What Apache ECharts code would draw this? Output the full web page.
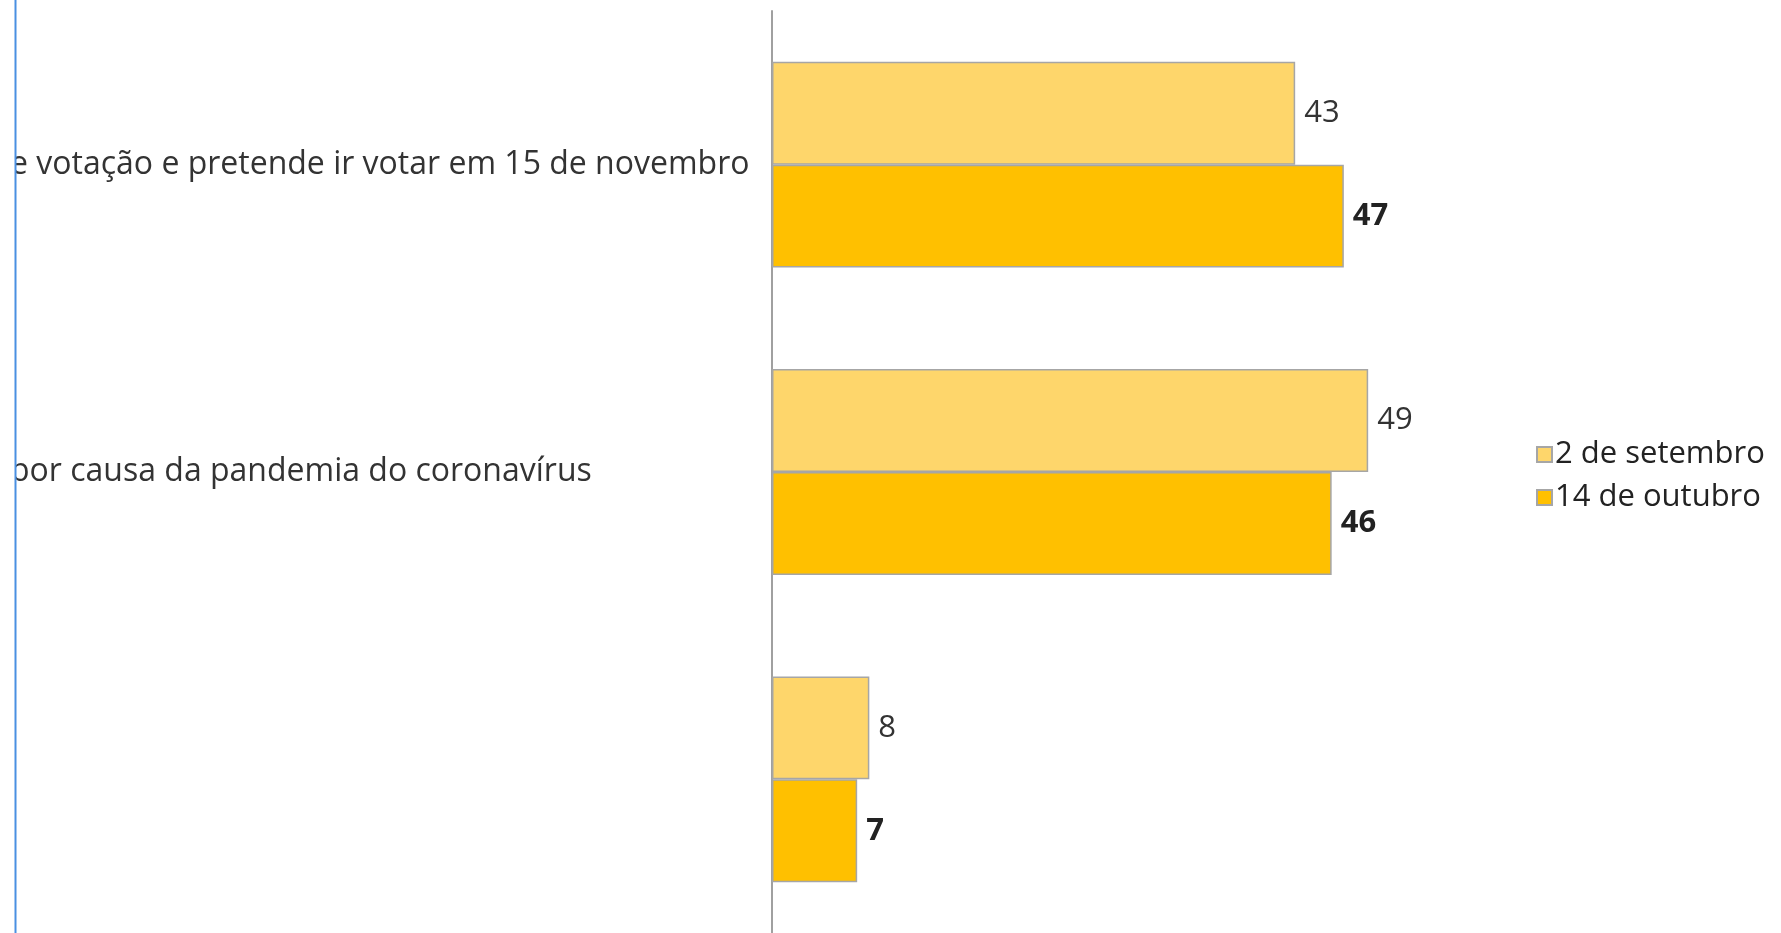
<!DOCTYPE html>
<html>
<head>
<meta charset="utf-8">
<title>Intenção de voto</title>
<script src="https://cdn.jsdelivr.net/npm/echarts@6/dist/echarts.min.js"></script>
<style>
    html, body { margin: 0; padding: 0; background: #fff; }
    #chart { width: 1781px; height: 933px; }
</style>
</head>
<body>
<div id="chart"></div>
<script>
// categorias (texto cortado na imagem original)
const categories = [
    'e votação e pretende ir votar em 15 de novembro',
    'por causa da pandemia do coronavírus',
    ''
]
const seriesNames = ['2 de setembro', '14 de outubro']
const setembro = [43, 49, 8]
const outubro = [47, 46, 7]

const fontFamily = '"Open Sans", "Noto Sans", sans-serif'
const myChart = echarts.init(document.getElementById('chart'))

myChart.setOption({
    animation: false,
    legend: {
        orient: 'vertical',
        left: 1531,
        top: 434,
        icon: 'rect',
        itemWidth: 15,
        itemHeight: 15,
        itemGap: 12,
        textStyle: { fontFamily, fontSize: 31, color: '#222', padding: [0, 0, 0, -2] },
        data: seriesNames
    },
    grid: {
        left: 772,
        right: 279,
        top: 11,
        height: 924
    },
    xAxis: {
        type: 'value',
        min: 0,
        max: 60,
        show: false
    },
    yAxis: {
        type: 'category',
        inverse: true,
        data: categories,
        axisTick: { show: false },
        axisLine: { lineStyle: { color: '#a0a0a0', width: 2 } },
        axisLabel: {
            align: 'left',
            margin: 762,
            fontFamily,
            fontSize: 32,
            color: '#333'
        }
    },
    series: [
        {
            name: seriesNames[0],
            type: 'bar',
            barGap: 0,
            barCategoryGap: '33%',
            itemStyle: { color: '#fed66b', borderColor: '#a6a6a6', borderWidth: 1.5 },
            label: {
                show: true,
                position: 'right',
                distance: 9,
                fontFamily,
                fontSize: 31,
                color: '#333'
            },
            data: setembro
        },
        {
            name: seriesNames[1],
            type: 'bar',
            barGap: 0,
            barCategoryGap: '33%',
            itemStyle: { color: '#ffc000', borderColor: '#a6a6a6', borderWidth: 1.5 },
            label: {
                show: true,
                position: 'right',
                distance: 9,
                fontFamily,
                fontSize: 31,
                fontWeight: 'bold',
                color: '#222'
            },
            data: outubro
        }
    ],
    graphic: [
        // a imagem original está cortada na esquerda
        {
            type: 'rect',
            z: 100,
            shape: { x: 0, y: 0, width: 15, height: 933 },
            style: { fill: '#fff' }
        },
        {
            type: 'line',
            z: 101,
            shape: { x1: 15.5, y1: 0, x2: 15.5, y2: 933 },
            style: { stroke: '#4a90e2', lineWidth: 2 }
        }
    ]
})
</script>
</body>
</html>
